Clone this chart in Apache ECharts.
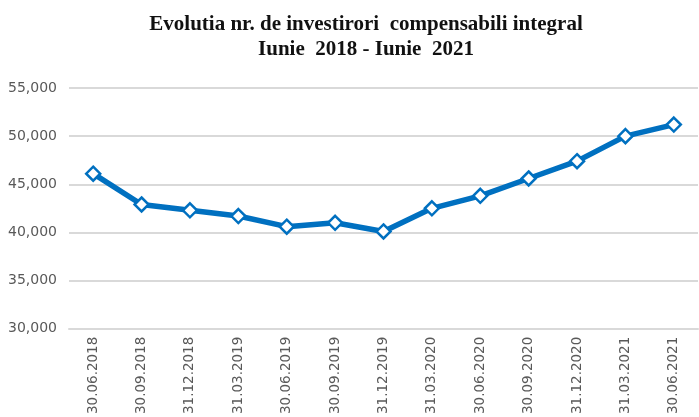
<!DOCTYPE html>
<html>
<head>
<meta charset="UTF-8">
<title>Evolutia nr. de investitori</title>
<script src="https://cdn.jsdelivr.net/npm/echarts@6/dist/echarts.min.js"></script>
<style>
  html, body { margin: 0; padding: 0; background: #fff; }
  #main { width: 699px; height: 417px; }
</style>
</head>
<body>
<div id="main"></div>
<script>
    // date trimestriale
    var dates = ['30.06.2018', '30.09.2018', '31.12.2018', '31.03.2019', '30.06.2019',
        '30.09.2019', '31.12.2019', '31.03.2020', '30.06.2020', '30.09.2020',
        '31.12.2020', '31.03.2021', '30.06.2021'];
    var investitori = [46100, 42900, 42300, 41700, 40600, 41000, 40100,
        42500, 43800, 45600, 47400, 50000, 51200];

    var myChart = echarts.init(document.getElementById('main'));
    var option = {
        animation: false,
        title: {
            text: 'Evolutia nr. de investirori  compensabili integral\nIunie  2018 - Iunie  2021',
            left: 361,
            top: 7,
            textAlign: 'center',
            textStyle: {
                fontFamily: 'Liberation Serif',
                fontWeight: 'bold',
                fontSize: 21,
                lineHeight: 25,
                color: '#111'
            }
        },
        grid: {
            left: 69,
            right: 1,
            top: 88,
            bottom: 87
        },
        xAxis: {
            type: 'category',
            boundaryGap: true,
            data: dates,
            axisLine: { lineStyle: { color: '#d9d9d9', width: 2 } },
            axisTick: { show: false },
            axisLabel: {
                rotate: 90,
                interval: 0,
                margin: 8,
                fontFamily: 'DejaVu Sans',
                fontSize: 13.5,
                color: '#595959'
            }
        },
        yAxis: {
            type: 'value',
            min: 30000,
            max: 55000,
            interval: 5000,
            axisLine: { show: false },
            axisTick: { show: false },
            splitLine: { lineStyle: { color: '#d9d9d9', width: 2 } },
            axisLabel: {
                margin: 12,
                fontFamily: 'DejaVu Sans',
                fontSize: 14,
                color: '#595959',
                formatter: function (v) {
                    return v.toLocaleString('en-US');
                }
            }
        },
        series: [{
            type: 'line',
            data: investitori,
            symbol: 'diamond',
            symbolSize: 14,
            lineStyle: { color: '#0070c0', width: 5.5 },
            itemStyle: { color: '#ffffff', borderColor: '#0070c0', borderWidth: 2.5 }
        }]
    };
    myChart.setOption(option);
</script>
</body>
</html>
